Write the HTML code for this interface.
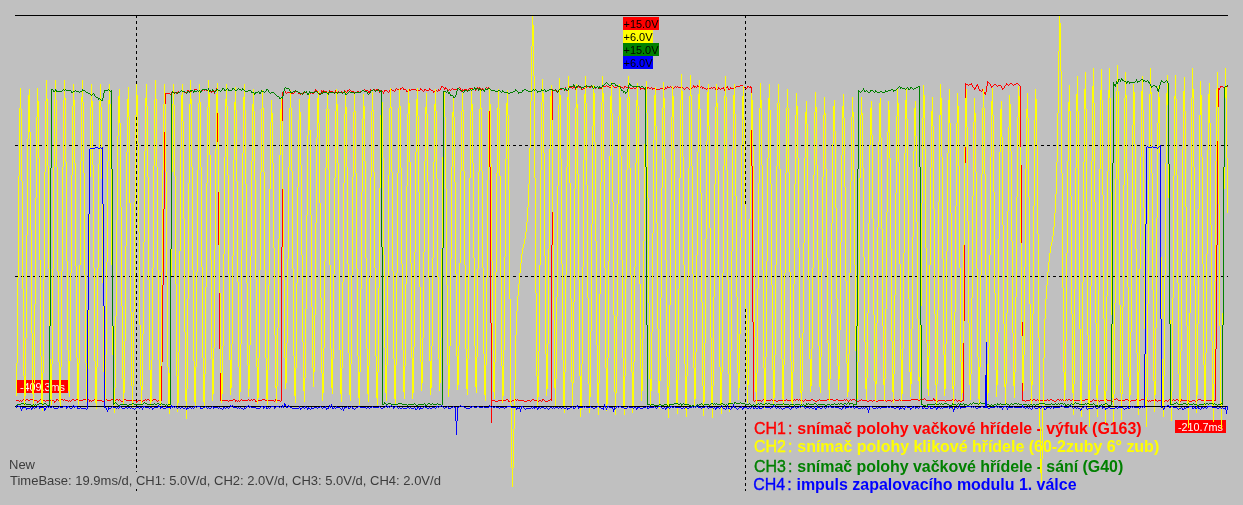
<!DOCTYPE html>
<html lang="cs">
<head>
<meta charset="utf-8">
<title>Oscilloscope</title>
<style>
html,body{margin:0;padding:0;background:#c0c0c0;}
body{width:1243px;height:505px;overflow:hidden;position:relative;font-family:"Liberation Sans",sans-serif;}
svg{position:absolute;left:0;top:0;display:block;will-change:transform;}
</style>
</head>
<body>
<svg width="1243" height="505" viewBox="0 0 1243 505" shape-rendering="crispEdges">
<rect x="17" y="380" width="51" height="13" fill="#f00"/>
<text x="20" y="391" font-family="'Liberation Sans',sans-serif" font-size="11" fill="#fff" textLength="45" lengthAdjust="spacingAndGlyphs">-409.3ms</text>
<rect x="1175" y="420" width="51" height="13" fill="#f00"/>
<text x="1178" y="431" font-family="'Liberation Sans',sans-serif" font-size="11" fill="#fff" textLength="45" lengthAdjust="spacingAndGlyphs">-210.7ms</text>
<rect x="623" y="17" width="36" height="13" fill="#f00"/>
<text x="623.5" y="28.0" font-family="'Liberation Sans',sans-serif" font-size="11" fill="#000" textLength="35" lengthAdjust="spacingAndGlyphs">+15.0V</text>
<rect x="623" y="30" width="30" height="13" fill="#ff0"/>
<text x="623.5" y="41.0" font-family="'Liberation Sans',sans-serif" font-size="11" fill="#000" textLength="29" lengthAdjust="spacingAndGlyphs">+6.0V</text>
<rect x="623" y="43" width="36" height="13" fill="#008000"/>
<text x="623.5" y="54.0" font-family="'Liberation Sans',sans-serif" font-size="11" fill="#000" textLength="35" lengthAdjust="spacingAndGlyphs">+15.0V</text>
<rect x="623" y="56" width="30" height="13" fill="#00f"/>
<text x="623.5" y="67.0" font-family="'Liberation Sans',sans-serif" font-size="11" fill="#000" textLength="29" lengthAdjust="spacingAndGlyphs">+6.0V</text>
<text transform="translate(0 434.0) scale(1 1.045)" font-family="'Liberation Sans',sans-serif" font-size="16" fill="#f00" stroke="#f00"><tspan x="754.0" stroke-width=".35">CH1</tspan><tspan dx="2" stroke-width=".35">:</tspan><tspan x="797.3" font-weight="bold" stroke-width="0" letter-spacing="-0.055">snímač polohy vačkové hřídele - výfuk (G163)</tspan></text>
<text transform="translate(0 452.0) scale(1 1.045)" font-family="'Liberation Sans',sans-serif" font-size="16" fill="#ff0" stroke="#ff0"><tspan x="754.0" stroke-width=".35">CH2</tspan><tspan dx="2" stroke-width=".35">:</tspan><tspan x="797.3" font-weight="bold" stroke-width="0" letter-spacing="-0.020">snímač polohy klikové hřídele (60-2zuby 6° zub)</tspan></text>
<text transform="translate(0 472.0) scale(1 1.045)" font-family="'Liberation Sans',sans-serif" font-size="16" fill="#008000" stroke="#008000"><tspan x="754.0" stroke-width=".35">CH3</tspan><tspan dx="2" stroke-width=".35">:</tspan><tspan x="797.3" font-weight="bold" stroke-width="0" letter-spacing="-0.050">snímač polohy vačkové hřídele - sání (G40)</tspan></text>
<text transform="translate(0 490.0) scale(1 1.045)" font-family="'Liberation Sans',sans-serif" font-size="16" fill="#00f" stroke="#00f"><tspan x="753.2" stroke-width=".35">CH4</tspan><tspan dx="2" stroke-width=".35">:</tspan><tspan x="796.5" font-weight="bold" stroke-width="0" letter-spacing="-0.025">impuls zapalovacího modulu 1. válce</tspan></text>
<path d="M15 15.5H1228" stroke="#000" stroke-width="1" fill="none"/>
<path d="M15 145.5H1228M15 276.5H1228" stroke="#000" stroke-width="1" stroke-dasharray="3 3" fill="none"/>
<path d="M136.5 15V491M745.5 15V491" stroke="#000" stroke-width="1" stroke-dasharray="3 3" fill="none"/>
<rect x="7" y="472" width="437" height="16" fill="#c0c0c0"/>
<text x="9" y="469" font-family="'Liberation Sans',sans-serif" font-size="13" fill="#3c3c3c">New</text>
<text x="10" y="485" font-family="'Liberation Sans',sans-serif" font-size="13" fill="#3c3c3c">TimeBase: 19.9ms/d, CH1: 5.0V/d, CH2: 2.0V/d, CH3: 5.0V/d, CH4: 2.0V/d</text>
<g stroke="#f00" stroke-width="1" fill="none"><path transform="translate(.5 0)" d="M37 401v2M54 401v2M56 399v2M89 400v2M136 401v2M161 362v39M162 285v77M163 209v76M164 132v77M165 93v39M171 92v2M186 92v2M187 90v2M194 89v2M201 90v2M212 90v2M214 92v2M215 90v2M216 88v2M217 89v53M218 142v103M219 245v104M220 349v52M235 400v2M255 400v2M275 399v2M281 247v154M282 92v155M283 91v2M284 89v2M285 91v2M295 90v2M298 92v2M309 91v2M310 92v2M314 91v2M315 89v2M318 92v2M320 93v2M321 90v3M322 91v2M323 90v2M324 91v2M327 92v2M329 90v2M335 90v2M337 92v2M338 91v2M344 90v2M345 91v2M347 90v2M365 90v2M368 91v2M369 91v2M370 89v2M378 89v2M379 91v2M380 90v2M383 92v2M384 90v2M389 90v2M395 89v2M400 88v2M403 88v2M406 90v2M409 89v2M420 88v2M424 89v2M429 88v2M433 91v2M438 89v2M440 88v2M441 86v2M444 88v2M445 87v2M460 88v2M461 90v2M462 89v2M467 90v2M468 89v2M475 89v2M476 88v2M478 88v2M479 87v2M485 88v2M489 88v79M490 167v156M491 323v100M508 400v2M542 399v2M551 245v156M552 89v156M559 89v2M564 89v2M565 87v2M566 89v2M568 88v2M569 86v2M573 86v2M575 88v2M576 87v2M578 85v2M579 86v2M581 88v2M583 87v2M586 86v2M598 87v2M602 86v2M624 86v2M640 88v2M647 87v2M652 88v2M665 87v2M667 86v2M693 85v2M694 86v2M697 85v2M699 87v2M702 87v2M715 88v2M718 87v2M723 87v2M724 89v2M725 88v2M727 86v2M728 88v2M730 87v2M734 86v2M743 86v2M747 86v2M750 86v2M751 87v79M752 166v156M753 322v79M933 398v2M934 399v2M963 321v80M964 163v158M965 83v80M971 83v2M972 85v2M974 88v2M975 87v2M976 85v2M977 84v2M978 86v3M979 89v2M982 89v2M983 90v2M984 92v2M985 92v3M986 86v6M987 81v5M990 84v2M991 86v2M1001 86v2M1002 88v2M1004 86v2M1006 83v2M1020 86v79M1021 165v157M1022 322v79M1113 399v2M1155 399v2M1181 399v2M1196 399v2M1215 349v52M1216 245v104M1217 141v104M1218 88v53M1219 88v2M1220 86v2"/><path transform="translate(0 .5)" d="M988 82h1M989 83h1M1010 83h2M1016 83h2M966 84h2M969 84h2M994 84h2M1007 84h1M1009 84h1M1012 84h1M1014 84h2M1018 84h1M606 85h1M612 85h1M740 85h3M968 85h1M993 85h1M996 85h1M998 85h3M1005 85h1M1008 85h1M1013 85h1M1019 85h1M442 86h1M587 86h2M591 86h1M597 86h1M603 86h3M607 86h2M611 86h1M613 86h1M617 86h4M625 86h1M628 86h1M637 86h2M670 86h1M675 86h1M677 86h1M695 86h1M698 86h1M701 86h1M736 86h4M748 86h1M992 86h1M997 86h1M1221 86h2M1225 86h1M1227 86h1M402 87h1M443 87h1M459 87h1M477 87h1M486 87h1M488 87h1M570 87h2M574 87h1M577 87h1M580 87h1M589 87h2M592 87h1M594 87h1M596 87h1M609 87h2M614 87h3M621 87h2M626 87h2M629 87h1M633 87h1M636 87h1M639 87h1M648 87h1M651 87h1M668 87h2M671 87h1M674 87h1M676 87h1M678 87h5M686 87h2M692 87h1M696 87h1M700 87h1M703 87h1M711 87h1M713 87h2M726 87h1M735 87h1M744 87h1M749 87h1M973 87h1M1223 87h2M1226 87h1M396 88h1M401 88h1M446 88h1M452 88h1M457 88h2M469 88h4M474 88h1M480 88h1M482 88h1M487 88h1M562 88h2M572 88h1M584 88h2M593 88h1M595 88h1M599 88h3M623 88h1M630 88h3M634 88h2M641 88h3M645 88h1M649 88h2M653 88h3M660 88h3M666 88h1M672 88h2M683 88h1M685 88h1M688 88h1M690 88h2M704 88h2M707 88h4M712 88h1M719 88h1M721 88h2M731 88h3M745 88h2M1003 88h1M195 89h2M203 89h1M205 89h1M208 89h1M349 89h1M364 89h1M373 89h2M376 89h2M391 89h1M397 89h2M404 89h2M411 89h5M421 89h1M425 89h1M430 89h1M447 89h1M449 89h1M451 89h1M453 89h4M464 89h3M473 89h1M481 89h1M483 89h1M560 89h2M582 89h1M644 89h1M646 89h1M656 89h4M663 89h2M684 89h1M689 89h1M706 89h1M716 89h2M720 89h1M729 89h1M181 90h1M188 90h1M192 90h1M197 90h1M202 90h1M204 90h1M206 90h2M209 90h1M316 90h1M348 90h1M350 90h1M362 90h2M366 90h2M371 90h2M375 90h1M381 90h1M385 90h2M390 90h1M392 90h2M399 90h1M410 90h1M416 90h1M418 90h2M422 90h1M426 90h3M431 90h2M436 90h1M439 90h1M448 90h1M450 90h1M463 90h1M484 90h1M553 90h3M567 90h1M980 90h1M172 91h2M178 91h1M180 91h1M182 91h2M189 91h3M193 91h1M198 91h2M210 91h1M213 91h1M296 91h2M317 91h1M325 91h2M330 91h3M336 91h1M341 91h1M351 91h3M357 91h2M360 91h2M382 91h1M387 91h1M394 91h1M407 91h2M417 91h1M423 91h1M434 91h2M437 91h1M556 91h3M981 91h1M174 92h2M177 92h1M179 92h1M184 92h2M200 92h1M211 92h1M287 92h3M294 92h1M303 92h4M311 92h1M328 92h1M333 92h2M339 92h2M342 92h2M346 92h1M354 92h3M359 92h1M388 92h1M166 93h4M176 93h1M286 93h1M290 93h4M299 93h1M301 93h2M307 93h2M312 93h2M319 93h1M170 94h1M300 94h1M86 398h1M924 398h1M1116 398h1M23 399h2M26 399h2M30 399h4M40 399h2M51 399h1M57 399h1M59 399h4M64 399h1M72 399h2M76 399h3M83 399h3M87 399h2M94 399h2M106 399h1M111 399h2M114 399h1M116 399h2M119 399h1M124 399h2M132 399h1M145 399h1M147 399h2M150 399h1M153 399h3M159 399h2M233 399h2M241 399h1M248 399h1M251 399h1M253 399h2M262 399h3M506 399h2M515 399h1M517 399h1M532 399h2M543 399h1M550 399h1M763 399h1M765 399h1M771 399h1M773 399h1M786 399h1M794 399h1M796 399h2M799 399h1M805 399h1M811 399h2M819 399h1M827 399h6M836 399h2M844 399h1M846 399h1M850 399h1M852 399h3M861 399h1M893 399h2M899 399h1M911 399h7M920 399h4M925 399h1M952 399h1M955 399h1M1030 399h1M1033 399h2M1037 399h1M1047 399h1M1050 399h2M1057 399h2M1060 399h1M1062 399h1M1066 399h1M1068 399h2M1072 399h1M1080 399h1M1085 399h4M1093 399h1M1105 399h2M1114 399h2M1117 399h1M1125 399h3M1136 399h3M1141 399h3M1169 399h1M1173 399h1M1176 399h2M1198 399h3M1205 399h1M16 400h3M20 400h1M22 400h1M25 400h1M28 400h2M34 400h3M39 400h1M42 400h3M46 400h5M52 400h2M58 400h1M63 400h1M65 400h3M69 400h1M71 400h1M74 400h2M79 400h4M90 400h1M92 400h2M96 400h6M104 400h2M107 400h4M113 400h1M115 400h1M118 400h1M120 400h1M123 400h1M126 400h6M133 400h3M138 400h4M143 400h2M146 400h1M149 400h1M151 400h2M156 400h1M158 400h1M221 400h7M229 400h4M236 400h1M238 400h1M240 400h1M242 400h6M249 400h2M252 400h1M257 400h5M265 400h9M276 400h4M492 400h3M498 400h8M512 400h3M516 400h1M518 400h6M527 400h3M531 400h1M534 400h3M539 400h2M544 400h1M548 400h2M755 400h6M762 400h1M764 400h1M766 400h5M772 400h1M774 400h2M778 400h5M784 400h2M787 400h4M792 400h2M795 400h1M798 400h1M800 400h3M804 400h1M806 400h5M813 400h2M817 400h2M820 400h7M833 400h3M838 400h6M845 400h1M847 400h1M849 400h1M851 400h1M855 400h1M859 400h2M862 400h5M869 400h3M873 400h3M878 400h8M887 400h4M892 400h1M895 400h4M900 400h11M918 400h2M926 400h7M935 400h2M938 400h7M946 400h6M953 400h2M956 400h1M958 400h2M962 400h1M1023 400h2M1026 400h4M1031 400h2M1035 400h2M1038 400h5M1044 400h3M1048 400h2M1052 400h2M1056 400h1M1059 400h1M1061 400h1M1063 400h3M1067 400h1M1070 400h2M1073 400h7M1081 400h4M1089 400h1M1092 400h1M1094 400h5M1100 400h5M1107 400h5M1118 400h7M1128 400h2M1131 400h5M1139 400h2M1144 400h4M1149 400h1M1151 400h3M1156 400h1M1158 400h4M1165 400h2M1168 400h1M1170 400h3M1174 400h2M1178 400h1M1182 400h7M1192 400h3M1197 400h1M1201 400h4M1206 400h9M19 401h1M21 401h1M38 401h1M45 401h1M55 401h1M68 401h1M70 401h1M91 401h1M102 401h2M121 401h2M137 401h1M142 401h1M157 401h1M228 401h1M237 401h1M239 401h1M256 401h1M274 401h1M280 401h1M495 401h3M509 401h3M524 401h3M530 401h1M537 401h2M541 401h1M545 401h3M754 401h1M761 401h1M776 401h2M783 401h1M791 401h1M803 401h1M815 401h2M848 401h1M856 401h3M867 401h2M872 401h1M876 401h2M886 401h1M891 401h1M937 401h1M945 401h1M957 401h1M960 401h2M1025 401h1M1043 401h1M1054 401h2M1090 401h2M1099 401h1M1112 401h1M1130 401h1M1148 401h1M1150 401h1M1154 401h1M1157 401h1M1162 401h3M1167 401h1M1179 401h2M1189 401h3M1195 401h1"/></g>
<g stroke="#ff0" stroke-width="1" fill="none"><path transform="translate(.5 0)" d="M16 363v33M17 278v85M18 176v102M19 108v68M20 88v21M21 109v72M22 181v108M23 289v87M24 376v32M25 338v58M26 235v103M27 139v96M28 95v44M29 89v43M30 132v98M31 230v103M32 333v61M33 383v26M34 304v79M35 198v106M36 117v81M37 88v29M38 101v57M39 158v102M40 260v96M41 356v47M42 373v38M43 279v94M44 172v107M45 101v71M46 80v21M47 99v67M48 166v103M49 269v90M50 359v40M51 364v41M52 269v95M53 167v102M54 100v67M55 80v20M56 100v67M57 167v104M58 271v91M59 362v40M60 367v41M61 271v96M62 167v104M63 100v67M64 80v20M65 98v64M66 162v99M67 261v89M68 350v41M69 361v36M70 273v88M71 175v98M72 106v69M73 84v22M74 100v63M75 163v103M76 266v92M77 358v41M78 363v42M79 265v98M80 161v104M81 97v64M82 80v22M83 102v71M84 173v102M85 275v88M86 363v39M87 369v39M88 277v92M89 177v100M90 107v70M91 84v23M92 101v64M93 165v103M94 268v93M95 361v42M96 367v42M97 268v99M98 164v104M99 101v63M100 84v23M101 107v72M102 179v104M103 283v89M104 372v36M105 355v46M106 262v93M107 161v101M108 100v61M109 84v20M110 104v64M111 168v97M112 265v90M113 355v48M114 388v25M115 316v72M116 220v96M117 136v84M118 96v40M119 89v34M120 123v84M121 207v99M122 306v73M123 379v26M124 341v52M125 246v95M126 152v94M127 99v53M128 87v30M129 117v86M130 203v109M131 312v74M132 386v22M133 312v74M134 202v110M135 115v87M136 84v31M137 95v48M138 143v89M139 232v93M140 325v61M141 386v19M142 334v56M143 242v92M144 151v91M145 98v53M146 84v22M147 106v71M148 177v103M149 280v90M150 370v38M151 360v42M152 268v92M153 166v102M154 100v66M155 80v20M156 99v68M157 167v103M158 270v90M159 360v41M160 366v41M161 272v94M162 170v102M163 104v66M164 84v20M165 104v68M166 172v104M167 276v91M168 367v41M169 373v41M170 276v97M171 172v104M172 104v68M173 84v21M174 105v71M175 176v108M176 284v92M177 376v36M178 352v51M179 251v101M180 149v102M181 95v54M182 84v37M183 121v98M184 219v113M185 332v69M186 389v30M187 299v90M188 183v116M189 104v79M190 80v24M191 99v68M192 167v103M193 270v91M194 361v41M195 367v41M196 272v95M197 170v102M198 103v67M199 84v19M200 102v65M201 167v100M202 267v91M203 358v44M204 374v35M205 287v87M206 183v104M207 107v76M208 80v27M209 94v61M210 155v105M211 260v99M212 359v42M213 348v46M214 250v98M215 149v101M216 94v55M217 83v30M218 113v79M219 192v101M220 293v80M221 373v30M222 346v48M223 254v92M224 157v97M225 99v58M226 84v22M227 106v69M228 175v99M229 274v86M230 360v35M231 344v44M232 256v88M233 160v96M234 102v58M235 87v23M236 110v71M237 181v101M238 282v85M239 367v33M240 344v48M241 250v94M242 153v97M243 97v56M244 84v26M245 110v74M246 184v99M247 283v82M248 365v32M249 345v44M250 256v89M251 161v95M252 104v57M253 89v22M254 111v69M255 180v99M256 279v88M257 367v37M258 358v40M259 270v88M260 172v98M261 109v63M262 90v19M263 108v64M264 172v98M265 270v88M266 358v41M267 370v35M268 285v85M269 189v96M270 122v67M271 100v22M272 113v50M273 163v85M274 248v87M275 335v53M276 386v17M277 328v58M278 239v89M279 155v84M280 109v46M281 98v23M282 121v68M283 189v91M284 280v78M285 358v31M286 343v40M287 259v84M288 167v92M289 108v59M290 90v18M291 108v63M292 171v98M293 269v87M294 356v40M295 368v35M296 283v85M297 187v96M298 120v67M299 99v21M300 112v53M301 165v90M302 255v87M303 342v49M304 378v24M305 309v69M306 215v94M307 135v80M308 99v36M309 94v36M310 130v85M311 215v92M312 307v61M313 368v19M314 315v57M315 223v92M316 138v85M317 98v40M318 91v32M319 123v80M320 203v95M321 298v75M322 373v28M323 348v45M324 261v87M325 168v93M326 109v59M327 92v17M328 109v61M329 170v95M330 265v84M331 349v39M332 359v35M333 274v85M334 178v96M335 111v67M336 89v22M337 104v59M338 163v97M339 260v90M340 350v44M341 368v34M342 282v86M343 183v99M344 114v69M345 92v22M346 107v60M347 167v97M348 264v89M349 353v42M350 364v37M351 275v89M352 177v98M353 112v65M354 93v19M355 111v62M356 173v96M357 269v87M358 356v42M359 372v33M360 289v83M361 192v97M362 119v73M363 94v25M364 106v55M365 161v97M366 258v91M367 349v45M368 366v36M369 278v88M370 177v101M371 111v66M372 92v19M373 110v62M374 172v96M375 268v88M376 356v42M377 372v33M378 288v84M379 188v100M380 115v73M381 90v25M382 102v56M383 158v97M384 255v93M385 348v45M386 365v36M387 276v89M388 175v101M389 108v67M390 88v20M391 107v65M392 172v99M393 271v88M394 359v40M395 365v39M396 273v92M397 173v100M398 108v65M399 89v19M400 106v62M401 168v96M402 264v86M403 350v42M404 366v33M405 284v82M406 186v98M407 114v72M408 89v25M409 103v59M410 162v101M411 263v95M412 358v41M413 347v46M414 252v95M415 152v100M416 99v53M417 88v28M418 116v76M419 192v95M420 287v75M421 362v29M422 338v45M423 252v86M424 161v91M425 107v54M426 93v21M427 114v68M428 182v96M429 278v83M430 361v34M431 346v42M432 258v88M433 162v96M434 104v58M435 89v22M436 111v68M437 179v98M438 277v82M439 359v32M440 338v45M441 249v89M442 157v92M443 104v53M444 92v25M445 117v72M446 189v96M447 285v80M448 365v32M449 346v43M450 259v87M451 167v92M452 112v55M453 97v20M454 117v65M455 182v92M456 274v82M457 356v34M458 346v39M459 263v83M460 171v92M461 111v60M462 93v18M463 110v61M464 171v94M465 265v84M466 349v40M467 359v36M468 274v85M469 178v96M470 111v67M471 89v22M472 104v59M473 163v95M474 258v88M475 346v41M476 357v36M477 269v88M478 172v97M479 109v63M480 90v19M481 108v63M482 171v97M483 268v86M484 354v41M485 365v36M486 278v87M487 180v98M488 111v69M489 89v22M490 104v60M491 164v97M492 261v89M493 350v42M494 362v37M495 272v90M496 173v99M497 108v65M498 89v20M499 109v67M500 176v101M501 277v89M502 366v37M503 350v46M504 257v93M505 159v98M506 103v56M507 90v25M508 115v75M509 190v109M510 299v105M511 404v64M512 468v19M513 429v39M514 380v49M515 335v45M516 311v24M517 296v15M518 284v12M519 273v11M520 263v10M521 254v9M522 248v6M523 244v4M524 239v5M525 232v7M526 222v10M527 207v15M528 184v23M529 148v36M530 101v47M531 46v55M532 16v30M533 25v51M534 76v102M535 178v115M536 293v83M537 376v30M538 351v46M539 265v86M540 170v95M541 102v68M542 79v23M543 93v60M544 153v103M545 256v98M546 354v42M547 344v45M548 249v95M549 149v100M550 96v53M551 85v35M552 120v92M553 212v108M554 320v68M555 379v27M556 297v82M557 186v111M558 105v81M559 78v27M560 95v64M561 159v105M562 264v96M563 360v46M564 372v41M565 275v97M566 167v108M567 97v70M568 76v24M569 100v83M570 183v116M571 299v83M572 382v25M573 302v81M574 189v113M575 108v81M576 84v24M577 104v70M578 174v106M579 280v96M580 376v41M581 364v46M582 267v97M583 160v107M584 94v66M585 76v27M586 103v82M587 185v113M588 298v86M589 384v29M590 331v66M591 224v107M592 126v98M593 85v41M594 93v49M595 142v99M596 241v104M597 345v58M598 383v32M599 294v89M600 182v112M601 102v80M602 76v26M603 93v67M604 160v108M605 268v100M606 368v43M607 358v46M608 261v97M609 156v105M610 96v60M611 82v31M612 113v89M613 202v113M614 315v77M615 392v23M616 316v77M617 204v112M618 116v88M619 84v32M620 97v59M621 156v104M622 260v98M623 358v49M624 376v39M625 279v97M626 170v109M627 98v72M628 76v22M629 97v71M630 168v107M631 275v97M632 372v41M633 362v45M634 267v95M635 163v104M636 100v63M637 83v23M638 106v74M639 180v104M640 284v85M641 369v32M642 339v52M643 241v98M644 144v97M645 92v52M646 81v32M647 113v85M648 198v105M649 303v76M650 379v26M651 332v59M652 233v99M653 140v93M654 95v45M655 87v39M656 126v97M657 223v106M658 329v64M659 381v28M660 298v83M661 188v110M662 108v80M663 82v26M664 98v61M665 159v101M666 260v97M667 357v51M668 387v31M669 305v82M670 200v105M671 117v83M672 86v31M673 96v53M674 149v101M675 250v100M676 350v53M677 380v34M678 289v91M679 178v111M680 100v78M681 74v26M682 91v66M683 157v108M684 265v99M685 364v46M686 376v41M687 277v99M688 168v109M689 96v72M690 75v21M691 95v71M692 166v108M693 274v94M694 368v39M695 352v47M696 255v97M697 152v103M698 94v58M699 80v29M700 109v84M701 193v109M702 302v84M703 386v30M704 343v59M705 239v104M706 141v98M707 92v49M708 84v42M709 126v102M710 228v110M711 338v65M712 386v32M713 297v89M714 184v113M715 107v77M716 84v23M717 103v68M718 171v105M719 276v91M720 367v41M721 372v42M722 273v99M723 166v107M724 96v70M725 76v21M726 97v73M727 170v110M728 280v94M729 374v38M730 351v52M731 251v100M732 149v102M733 95v54M734 84v30M735 114v82M736 196v101M737 297v76M738 373v27M739 334v54M740 238v96M741 145v93M742 96v49M743 86v33M744 119v86M745 205v103M746 308v72M747 380v23M748 320v65M749 219v101M750 130v89M751 93v37M752 100v46M753 146v94M754 240v97M755 337v55M756 373v31M757 289v84M758 183v106M759 108v75M760 83v25M761 100v65M762 165v105M763 270v98M764 368v41M765 357v45M766 261v96M767 158v103M768 98v60M769 84v26M770 110v74M771 184v101M772 285v85M773 370v35M774 355v43M775 265v90M776 166v99M777 103v63M778 84v19M779 103v66M780 169v101M781 270v89M782 359v40M783 365v40M784 273v92M785 173v100M786 108v65M787 89v19M788 108v64M789 172v100M790 272v89M791 361v41M792 372v36M793 284v88M794 184v100M795 115v69M796 93v22M797 106v52M798 158v90M799 248v90M800 338v55M801 391v17M802 333v58M803 243v90M804 158v85M805 112v46M806 101v23M807 124v66M808 190v90M809 280v79M810 359v33M811 349v37M812 268v81M813 175v93M814 112v63M815 92v20M816 107v58M817 165v95M818 260v86M819 346v41M820 357v36M821 272v85M822 177v95M823 115v62M824 97v18M825 113v56M826 169v89M827 258v85M828 343v47M829 379v22M830 314v65M831 223v91M832 144v79M833 106v38M834 100v31M835 131v77M836 208v91M837 299v67M838 366v24M839 330v49M840 242v88M841 155v87M842 106v49M843 94v24M844 118v69M845 187v94M846 281v82M847 363v34M848 354v38M849 273v81M850 181v92M851 117v64M852 97v20M853 112v58M854 170v95M855 265v86M856 351v41M857 362v37M858 275v87M859 178v97M860 115v63M861 97v18M862 113v55M863 168v89M864 257v85M865 342v47M866 378v22M867 313v65M868 223v90M869 145v78M870 108v37M871 101v34M872 135v84M873 219v96M874 315v66M875 381v20M876 323v61M877 227v96M878 142v85M879 103v39M880 98v40M881 138v91M882 229v97M883 326v59M884 379v22M885 309v70M886 212v97M887 132v80M888 101v31M889 110v48M890 158v91M891 249v92M892 341v51M893 374v29M894 295v79M895 193v102M896 116v77M897 89v27M898 103v59M899 162v102M900 264v96M901 360v41M902 349v45M903 253v96M904 153v100M905 100v53M906 89v30M907 119v81M908 200v99M909 299v73M910 372v25M911 329v55M912 237v92M913 151v86M914 108v43M915 101v35M916 136v86M917 222v97M918 319v62M919 377v22M920 306v71M921 203v103M922 118v85M923 85v33M924 95v54M925 149v99M926 248v95M927 343v46M928 357v39M929 265v92M930 168v97M931 111v57M932 97v29M933 126v83M934 209v105M935 314v71M936 384v22M937 310v74M938 202v108M939 115v87M940 84v31M941 98v59M942 157v102M943 259v96M944 355v41M945 344v45M946 251v93M947 153v98M948 100v53M949 89v34M950 123v90M951 213v107M952 320v69M953 386v23M954 312v74M955 206v106M956 123v83M957 93v30M958 106v60M959 166v102M960 268v94M961 362v39M962 343v50M963 245v98M964 147v98M965 98v49M966 89v38M967 127v94M968 221v102M969 323v62M970 374v26M971 298v76M972 196v102M973 122v74M974 98v24M975 113v59M976 172v97M977 269v88M978 357v42M979 367v38M980 275v92M981 174v101M982 108v66M983 89v19M984 108v66M985 174v101M986 275v89M987 364v37M988 347v46M989 255v92M990 157v98M991 101v56M992 88v27M993 115v77M994 192v101M995 293v77M996 370v27M997 332v53M998 239v93M999 152v87M1000 109v43M1001 101v36M1002 137v88M1003 225v99M1004 324v63M1005 384v21M1006 313v71M1007 211v102M1008 127v84M1009 95v32M1010 104v47M1011 151v90M1012 241v92M1013 333v53M1014 372v26M1015 297v75M1016 197v100M1017 117v80M1018 86v31M1019 96v51M1020 147v96M1021 243v93M1022 336v47M1023 355v36M1024 267v88M1025 169v98M1026 109v60M1027 93v25M1028 118v79M1029 197v107M1030 304v77M1031 381v24M1032 314v71M1033 206v108M1034 120v86M1035 89v31M1036 99v46M1037 145v89M1038 234v104M1039 338v89M1040 427v46M1041 459v24M1042 409v50M1043 358v51M1044 319v39M1045 299v20M1046 285v14M1047 272v13M1048 262v10M1049 253v9M1050 246v7M1051 242v4M1052 236v6M1053 227v9M1054 213v14M1055 194v19M1056 162v32M1057 113v49M1058 51v62M1059 16v35M1060 23v48M1061 71v102M1062 173v115M1063 288v84M1064 372v29M1065 341v49M1066 253v88M1067 161v92M1068 102v59M1069 85v26M1070 111v85M1071 196v118M1072 314v79M1073 384v31M1074 289v95M1075 168v121M1076 94v74M1077 76v35M1078 111v99M1079 210v119M1080 329v71M1081 381v36M1082 282v99M1083 162v120M1084 89v73M1085 72v37M1086 109v102M1087 211v124M1088 335v74M1089 390v37M1090 286v104M1091 161v125M1092 86v75M1093 68v35M1094 103v99M1095 202v121M1096 323v75M1097 385v32M1098 290v95M1099 169v121M1100 90v79M1101 69v31M1102 100v95M1103 195v124M1104 319v82M1105 391v32M1106 296v95M1107 171v125M1108 90v81M1109 68v30M1110 98v94M1111 192v123M1112 315v83M1113 394v28M1114 303v91M1115 179v124M1116 91v88M1117 65v26M1118 91v89M1119 180v125M1120 305v88M1121 393v27M1122 307v87M1123 185v122M1124 98v87M1125 72v26M1126 95v78M1127 173v114M1128 287v90M1129 377v33M1130 332v63M1131 224v108M1132 125v99M1133 84v41M1134 92v52M1135 144v105M1136 249v104M1137 353v53M1138 372v43M1139 269v103M1140 157v112M1141 91v66M1142 76v34M1143 110v98M1144 208v121M1145 329v77M1146 397v30M1147 304v93M1148 180v124M1149 94v86M1150 68v26M1151 92v81M1152 173v117M1153 290v91M1154 381v31M1155 328v67M1156 218v110M1157 123v95M1158 86v37M1159 97v56M1160 153v104M1161 257v102M1162 359v50M1163 376v41M1164 275v101M1165 163v112M1166 93v70M1167 75v30M1168 105v93M1169 198v122M1170 320v80M1171 391v30M1172 298v93M1173 176v122M1174 96v80M1175 75v24M1176 99v76M1177 175v108M1178 283v91M1179 374v36M1180 351v50M1181 252v99M1182 149v103M1183 91v58M1184 77v34M1185 111v96M1186 207v119M1187 326v79M1188 401v27M1189 313v88M1190 190v123M1191 98v92M1192 68v30M1193 89v78M1194 167v119M1195 286v94M1196 380v33M1197 324v71M1198 209v115M1199 115v94M1200 81v34M1201 95v62M1202 157v107M1203 264v101M1204 365v43M1205 353v48M1206 254v99M1207 150v104M1208 94v56M1209 83v40M1210 123v102M1211 225v116M1212 341v66M1213 384v38M1214 281v103M1215 161v120M1216 89v72M1217 72v35M1218 107v97M1219 204v122M1220 326v80M1221 402v27M1222 313v89M1223 189v124M1224 98v91M1225 68v30M1226 86v72M1227 158v55"/></g>
<path d="M15 406.5H1228" stroke="#000" stroke-width="1" fill="none"/>
<g stroke="#008000" stroke-width="1" fill="none"><path transform="translate(.5 0)" d="M49 326v81M50 168v158M51 89v79M53 90v2M55 89v2M56 90v2M71 91v2M82 89v2M94 94v2M98 98v2M102 98v3M103 93v5M104 90v3M111 90v79M112 169v157M113 326v79M170 249v156M171 93v156M172 91v2M187 91v2M190 90v2M193 91v2M194 90v2M200 91v2M201 90v2M208 88v2M209 90v2M212 89v2M214 91v2M216 89v2M222 88v2M224 89v2M228 89v2M232 88v2M242 88v2M251 91v2M254 93v2M255 92v2M259 92v2M260 92v2M261 90v2M266 89v2M268 90v2M279 97v2M282 96v3M283 91v5M284 88v3M289 89v2M290 91v2M303 92v2M306 91v2M307 93v2M308 93v2M309 91v2M321 92v2M323 91v2M328 93v2M329 91v2M344 91v2M345 93v2M367 92v2M370 91v2M379 90v2M381 90v157M382 247v158M384 402v2M425 404v2M442 248v157M443 91v157M447 90v2M448 92v2M449 92v2M450 94v2M453 96v2M455 95v2M456 91v4M457 88v3M464 90v2M474 87v2M475 88v2M478 89v2M479 88v2M484 90v2M485 88v2M502 90v2M515 89v2M518 92v2M522 90v2M537 91v2M541 89v2M545 90v2M556 90v2M558 90v2M564 89v2M565 88v2M568 88v2M573 84v2M574 85v2M575 87v2M576 86v2M581 87v2M592 86v2M594 86v2M598 87v2M599 86v2M602 85v2M611 83v2M615 84v2M620 87v2M621 89v2M623 91v2M625 92v2M627 89v3M628 85v4M629 83v2M630 84v2M645 87v80M646 167v158M647 325v80M669 404v2M681 404v2M728 403v2M734 402v2M804 405v2M806 403v2M849 403v2M853 404v2M856 326v79M857 169v157M858 90v79M863 88v2M864 90v2M870 90v2M875 90v2M885 90v2M893 90v2M900 87v2M908 88v2M910 87v2M919 86v81M920 167v158M921 325v80M927 404v2M952 403v2M959 404v2M960 403v2M964 404v2M992 405v2M997 403v2M1065 404v2M1111 324v81M1112 163v161M1113 82v81M1114 84v2M1115 84v3M1116 81v3M1117 82v2M1118 79v3M1120 80v2M1121 78v2M1122 79v2M1126 82v2M1127 81v2M1129 82v2M1136 79v2M1137 81v2M1143 80v2M1148 81v2M1149 82v2M1150 84v2M1151 86v2M1156 86v2M1157 88v3M1158 89v3M1159 85v4M1160 82v3M1161 80v2M1167 81v2M1168 83v81M1169 164v160M1170 324v81M1222 325v80M1223 167v158M1224 87v80"/><path transform="translate(0 .5)" d="M1119 79h1M1141 79h2M1123 80h1M1140 80h1M1144 80h1M1147 80h1M1166 80h1M1124 81h2M1128 81h1M1135 81h1M1138 81h2M1145 81h2M1162 81h1M1165 81h1M606 82h1M1130 82h5M1163 82h2M605 83h1M607 83h1M612 83h3M604 84h1M608 84h1M578 85h1M586 85h1M591 85h1M603 85h1M609 85h2M616 85h2M631 85h1M1153 85h2M1227 85h1M570 86h3M577 86h1M579 86h2M584 86h2M587 86h4M597 86h1M618 86h2M632 86h8M641 86h2M899 86h1M918 86h1M1152 86h1M1155 86h1M1225 86h2M285 87h1M569 87h1M582 87h2M595 87h2M600 87h2M640 87h1M643 87h1M898 87h1M901 87h1M907 87h1M911 87h1M916 87h2M223 88h1M227 88h1M233 88h1M238 88h1M286 88h3M458 88h1M476 88h2M488 88h2M560 88h4M593 88h1M644 88h1M897 88h1M902 88h3M906 88h1M912 88h1M914 88h2M52 89h1M63 89h1M65 89h1M108 89h1M202 89h5M217 89h1M226 89h1M234 89h1M237 89h1M239 89h2M243 89h1M267 89h1M373 89h1M378 89h1M459 89h1M470 89h1M472 89h2M480 89h1M482 89h1M486 89h2M490 89h1M524 89h2M533 89h1M535 89h1M544 89h1M549 89h3M555 89h1M559 89h1M566 89h1M891 89h2M896 89h1M905 89h1M909 89h1M913 89h1M62 90h1M64 90h1M66 90h5M75 90h1M83 90h2M105 90h3M109 90h1M181 90h1M191 90h2M197 90h1M199 90h1M207 90h1M210 90h1M213 90h1M218 90h2M221 90h1M225 90h1M229 90h3M235 90h2M241 90h1M244 90h1M248 90h3M295 90h1M362 90h2M371 90h2M374 90h1M376 90h2M460 90h2M465 90h2M468 90h2M471 90h1M481 90h1M483 90h1M491 90h4M498 90h2M516 90h1M523 90h1M526 90h2M532 90h1M534 90h1M536 90h1M542 90h2M547 90h2M552 90h3M567 90h1M622 90h1M862 90h1M866 90h1M871 90h2M888 90h3M894 90h2M54 91h1M57 91h5M73 91h2M76 91h3M80 91h2M85 91h1M110 91h1M180 91h1M182 91h3M188 91h1M195 91h2M198 91h1M211 91h1M215 91h1M220 91h1M245 91h3M258 91h1M262 91h2M265 91h1M293 91h2M296 91h2M304 91h1M315 91h2M349 91h1M361 91h1M364 91h3M375 91h1M380 91h1M444 91h2M462 91h1M467 91h1M495 91h3M500 91h1M503 91h1M513 91h2M517 91h1M528 91h4M538 91h3M546 91h1M624 91h1M859 91h1M861 91h1M865 91h1M867 91h1M873 91h1M876 91h1M880 91h2M886 91h2M72 92h1M79 92h1M86 92h2M173 92h1M175 92h2M178 92h2M185 92h1M189 92h1M252 92h2M256 92h2M264 92h1M269 92h1M271 92h3M291 92h2M298 92h2M305 92h1M310 92h5M317 92h1M324 92h3M330 92h4M335 92h2M338 92h4M343 92h1M348 92h1M350 92h4M355 92h6M446 92h1M463 92h1M501 92h1M504 92h4M510 92h3M519 92h3M557 92h1M626 92h1M860 92h1M868 92h2M874 92h1M877 92h3M882 92h3M88 93h2M93 93h1M174 93h1M177 93h1M186 93h1M270 93h1M274 93h1M300 93h2M318 93h1M322 93h1M327 93h1M334 93h1M337 93h1M342 93h1M347 93h1M354 93h1M369 93h1M508 93h2M90 94h1M92 94h1M275 94h1M302 94h1M319 94h2M346 94h1M368 94h1M91 95h1M276 95h1M451 95h2M95 96h1M277 96h2M96 97h2M281 97h1M454 97h1M99 98h1M280 98h1M100 99h1M101 100h1M115 402h1M144 402h1M735 402h1M740 402h1M848 402h1M973 402h1M980 402h1M1075 402h1M1176 402h1M21 403h3M25 403h1M39 403h3M44 403h2M114 403h1M116 403h1M132 403h2M143 403h1M145 403h2M154 403h1M157 403h2M161 403h1M385 403h1M388 403h3M398 403h4M414 403h1M424 403h1M428 403h2M432 403h1M437 403h1M674 403h4M680 403h1M683 403h1M701 403h1M711 403h2M714 403h1M716 403h1M721 403h2M729 403h4M736 403h4M741 403h4M749 403h1M758 403h1M760 403h2M765 403h2M768 403h2M783 403h1M808 403h1M814 403h2M834 403h1M838 403h1M840 403h2M844 403h2M847 403h1M850 403h3M935 403h1M939 403h1M941 403h1M944 403h3M958 403h1M963 403h1M970 403h1M972 403h1M974 403h4M979 403h1M981 403h4M1000 403h1M1006 403h1M1011 403h1M1014 403h3M1018 403h1M1039 403h6M1051 403h1M1055 403h1M1058 403h1M1060 403h3M1064 403h1M1071 403h1M1074 403h1M1076 403h3M1085 403h1M1087 403h2M1093 403h1M1105 403h2M1174 403h2M1177 403h1M1183 403h3M1188 403h1M1193 403h1M1204 403h1M1206 403h2M1209 403h4M1214 403h1M1221 403h1M17 404h4M24 404h1M26 404h5M33 404h1M35 404h1M37 404h2M42 404h2M46 404h1M117 404h1M120 404h7M129 404h3M134 404h9M147 404h7M155 404h2M159 404h2M162 404h3M166 404h1M168 404h2M383 404h1M386 404h2M391 404h7M402 404h5M408 404h6M415 404h1M418 404h6M427 404h1M430 404h2M433 404h4M438 404h3M648 404h2M651 404h3M659 404h2M664 404h3M670 404h4M678 404h2M682 404h1M684 404h5M697 404h1M699 404h2M702 404h1M704 404h5M710 404h1M713 404h1M715 404h1M717 404h4M723 404h2M726 404h1M733 404h1M745 404h4M750 404h1M753 404h1M756 404h2M759 404h1M762 404h3M767 404h1M770 404h5M776 404h7M784 404h5M790 404h4M795 404h5M801 404h1M803 404h1M807 404h1M809 404h5M816 404h1M818 404h7M827 404h3M831 404h3M835 404h3M839 404h1M842 404h2M846 404h1M854 404h2M922 404h1M928 404h7M936 404h3M940 404h1M942 404h2M947 404h2M953 404h3M957 404h1M961 404h2M965 404h2M969 404h1M971 404h1M978 404h1M985 404h4M991 404h1M994 404h2M998 404h2M1001 404h5M1007 404h2M1010 404h1M1012 404h2M1017 404h1M1019 404h3M1023 404h4M1028 404h1M1030 404h2M1033 404h2M1036 404h3M1045 404h6M1052 404h3M1056 404h2M1059 404h1M1063 404h1M1067 404h2M1070 404h1M1072 404h2M1079 404h6M1086 404h1M1089 404h4M1094 404h1M1101 404h1M1103 404h2M1107 404h1M1171 404h3M1178 404h5M1186 404h2M1189 404h4M1194 404h3M1199 404h5M1205 404h1M1208 404h1M1213 404h1M1215 404h2M1218 404h3M16 405h1M31 405h2M34 405h1M36 405h1M47 405h2M118 405h2M127 405h2M165 405h1M167 405h1M407 405h1M416 405h2M426 405h1M441 405h1M650 405h1M654 405h5M661 405h3M667 405h1M689 405h2M692 405h2M696 405h1M698 405h1M703 405h1M709 405h1M725 405h1M727 405h1M751 405h2M754 405h2M775 405h1M789 405h1M794 405h1M800 405h1M802 405h1M805 405h1M817 405h1M825 405h2M830 405h1M923 405h3M949 405h3M956 405h1M967 405h2M989 405h2M993 405h1M996 405h1M1009 405h1M1022 405h1M1027 405h1M1029 405h1M1032 405h1M1035 405h1M1066 405h1M1069 405h1M1095 405h3M1099 405h2M1102 405h1M1108 405h3M1197 405h2M1217 405h1M668 406h1M691 406h1M694 406h2M926 406h1M1098 406h1"/></g>
<g stroke="#00f" stroke-width="1" fill="none"><path transform="translate(.5 0)" d="M16 406v2M20 407v2M21 409v2M22 407v2M26 408v2M31 408v2M32 407v2M39 407v2M43 406v2M44 408v3M45 408v2M46 406v2M66 407v2M67 406v2M72 406v2M74 406v2M77 407v2M87 310v99M88 214v96M89 149v65M102 147v57M103 204v102M104 306v102M106 408v2M107 410v2M108 407v3M119 406v2M142 408v2M143 406v2M152 408v2M158 405v2M160 407v2M161 406v2M166 406v2M170 407v2M171 405v2M172 406v2M186 408v2M187 407v2M194 406v2M200 407v2M213 407v2M223 407v2M230 405v2M233 406v2M244 407v2M246 406v2M249 406v2M263 407v2M264 406v2M266 407v2M274 407v2M282 405v2M283 406v2M284 403v3M285 404v2M286 406v2M288 405v2M299 406v2M300 408v2M305 406v2M307 408v2M308 407v2M311 407v2M325 406v2M326 408v2M328 407v2M329 405v2M330 406v2M331 404v2M332 406v3M336 406v2M342 407v2M343 409v2M344 407v2M348 407v2M352 407v2M387 406v2M393 407v2M415 408v2M417 407v2M419 408v2M420 407v2M436 406v2M448 407v2M455 407v14M456 421v14M457 407v14M470 406v2M489 405v2M516 408v2M517 407v2M519 407v2M520 409v3M521 406v3M533 406v2M534 407v2M537 408v2M538 407v2M567 408v2M573 407v2M577 405v2M578 407v2M603 407v3M604 404v3M605 406v2M606 408v2M607 406v2M612 407v2M613 409v3M614 407v3M616 406v2M636 408v2M637 407v2M647 407v2M649 406v2M665 408v2M666 407v2M670 406v2M698 406v2M715 408v2M716 407v2M720 406v2M722 406v2M726 407v2M727 405v2M728 407v2M731 407v2M732 406v2M733 404v2M734 406v2M741 406v2M742 408v2M743 407v2M753 407v2M758 406v2M759 407v2M773 405v2M791 407v2M814 406v2M815 408v2M816 408v2M817 406v2M842 407v2M844 405v2M845 407v2M855 406v2M867 408v2M868 410v3M869 407v3M899 408v2M900 407v2M904 408v2M905 406v2M910 408v2M912 406v2M915 407v2M922 407v2M928 406v2M930 407v2M933 406v2M936 408v2M937 407v2M949 407v2M952 407v2M953 409v3M954 407v3M959 405v2M960 407v2M985 375v33M986 342v66M1002 408v2M1003 406v2M1007 408v2M1008 406v2M1022 405v2M1023 406v2M1032 407v2M1043 406v2M1044 408v2M1046 407v2M1053 407v2M1080 409v2M1081 408v2M1086 407v2M1102 407v2M1105 408v2M1118 406v2M1127 406v2M1128 407v2M1144 354v54M1145 224v130M1146 147v77M1160 145v174M1161 319v89M1163 408v2M1164 407v2M1169 406v2M1182 408v2M1184 407v2M1192 407v2M1194 406v2M1195 407v2M1197 406v2M1198 407v2M1201 407v2M1207 406v2M1225 407v3M1226 410v4M1227 406v4"/><path transform="translate(0 .5)" d="M1147 146h1M1152 146h1M1159 146h1M95 147h3M100 147h1M1148 147h4M1153 147h4M1158 147h1M90 148h5M98 148h2M101 148h1M1157 148h1M17 405h1M73 405h1M232 405h1M248 405h1M386 405h1M391 405h1M441 405h1M460 405h1M697 405h1M721 405h1M1061 405h1M1070 405h1M1167 405h2M18 406h2M37 406h2M47 406h1M49 406h1M52 406h1M59 406h1M63 406h3M68 406h1M75 406h2M112 406h1M120 406h1M144 406h1M159 406h1M173 406h1M175 406h1M195 406h1M197 406h3M205 406h1M212 406h1M231 406h1M247 406h1M250 406h1M261 406h2M265 406h1M271 406h3M276 406h3M280 406h1M289 406h1M320 406h1M347 406h1M351 406h1M358 406h2M372 406h1M379 406h1M385 406h1M388 406h1M390 406h1M392 406h1M395 406h2M424 406h1M437 406h1M439 406h2M442 406h1M447 406h1M453 406h1M459 406h1M461 406h3M472 406h2M477 406h2M483 406h1M490 406h1M492 406h1M495 406h1M507 406h4M522 406h1M572 406h1M576 406h1M583 406h1M585 406h1M590 406h1M597 406h2M608 406h1M617 406h1M619 406h2M628 406h1M646 406h1M654 406h1M658 406h3M671 406h1M674 406h1M692 406h1M694 406h1M696 406h1M705 406h2M752 406h1M764 406h1M774 406h1M794 406h1M799 406h1M801 406h3M823 406h1M827 406h1M829 406h2M834 406h1M849 406h1M852 406h1M870 406h2M887 406h1M890 406h1M906 406h1M914 406h1M920 406h2M929 406h1M948 406h1M966 406h5M972 406h1M974 406h1M981 406h2M995 406h2M998 406h1M1004 406h2M1013 406h1M1033 406h1M1042 406h1M1052 406h1M1060 406h1M1062 406h2M1069 406h1M1071 406h1M1084 406h2M1094 406h1M1100 406h2M1131 406h1M1133 406h1M1141 406h1M1143 406h1M1165 406h2M1171 406h2M1189 406h3M1208 406h4M23 407h3M30 407h1M33 407h1M35 407h2M40 407h3M48 407h1M50 407h2M53 407h1M58 407h1M60 407h3M69 407h1M80 407h1M105 407h1M111 407h1M113 407h3M117 407h1M121 407h1M125 407h2M128 407h2M131 407h1M136 407h3M140 407h2M145 407h4M150 407h2M154 407h4M162 407h1M167 407h3M174 407h1M176 407h1M178 407h2M181 407h2M185 407h1M189 407h2M192 407h1M196 407h1M203 407h2M206 407h1M208 407h1M211 407h1M214 407h4M219 407h1M224 407h1M226 407h2M229 407h1M234 407h3M238 407h1M240 407h1M251 407h5M260 407h1M268 407h1M270 407h1M275 407h1M279 407h1M281 407h1M287 407h1M290 407h2M302 407h2M306 407h1M314 407h3M318 407h2M321 407h1M323 407h2M334 407h1M337 407h3M345 407h2M350 407h1M356 407h2M360 407h6M367 407h2M370 407h2M373 407h6M380 407h1M383 407h2M389 407h1M394 407h1M397 407h1M399 407h1M402 407h1M407 407h2M410 407h1M414 407h1M418 407h1M423 407h1M425 407h2M429 407h1M432 407h3M438 407h1M443 407h1M445 407h2M451 407h2M454 407h1M458 407h1M464 407h2M471 407h1M474 407h3M479 407h4M484 407h5M491 407h1M493 407h2M496 407h3M500 407h4M505 407h2M511 407h5M523 407h1M531 407h1M535 407h2M539 407h1M541 407h3M546 407h1M550 407h2M553 407h1M555 407h3M559 407h2M562 407h2M566 407h1M570 407h2M575 407h1M579 407h4M584 407h1M586 407h4M591 407h2M595 407h2M599 407h2M609 407h3M618 407h1M621 407h3M627 407h1M629 407h4M634 407h2M638 407h2M643 407h3M650 407h4M655 407h1M657 407h1M661 407h1M664 407h1M667 407h2M672 407h2M675 407h6M683 407h1M685 407h2M689 407h3M693 407h1M695 407h1M699 407h2M702 407h3M707 407h1M709 407h4M714 407h1M717 407h2M735 407h1M739 407h2M744 407h3M749 407h1M751 407h1M755 407h1M762 407h2M765 407h5M771 407h2M775 407h1M777 407h2M780 407h1M785 407h4M792 407h2M795 407h1M797 407h2M800 407h1M804 407h1M806 407h3M810 407h2M818 407h2M822 407h1M824 407h1M826 407h1M828 407h1M831 407h3M835 407h4M843 407h1M846 407h3M850 407h2M853 407h1M856 407h2M861 407h1M863 407h1M865 407h2M872 407h1M876 407h1M878 407h2M881 407h6M888 407h2M891 407h3M896 407h3M902 407h1M907 407h3M913 407h1M916 407h2M919 407h1M924 407h1M934 407h2M938 407h2M941 407h1M943 407h5M950 407h2M955 407h2M958 407h1M961 407h5M971 407h1M973 407h1M975 407h1M978 407h3M983 407h2M987 407h1M990 407h5M997 407h1M999 407h3M1006 407h1M1009 407h4M1014 407h8M1024 407h1M1026 407h2M1029 407h1M1034 407h1M1038 407h2M1041 407h1M1047 407h3M1051 407h1M1054 407h6M1064 407h5M1072 407h1M1074 407h2M1077 407h1M1082 407h2M1093 407h1M1095 407h1M1098 407h2M1103 407h2M1108 407h2M1115 407h2M1119 407h4M1130 407h1M1132 407h1M1134 407h5M1140 407h1M1142 407h1M1162 407h1M1170 407h1M1173 407h4M1181 407h1M1186 407h3M1202 407h1M1204 407h2M1212 407h5M1219 407h2M1222 407h1M27 408h3M34 408h1M54 408h4M70 408h2M78 408h2M81 408h5M109 408h2M116 408h1M118 408h1M122 408h3M127 408h1M130 408h1M132 408h2M135 408h1M139 408h1M149 408h1M153 408h1M163 408h3M177 408h1M180 408h1M183 408h2M188 408h1M191 408h1M193 408h1M201 408h2M207 408h1M209 408h2M218 408h1M220 408h2M225 408h1M228 408h1M237 408h1M239 408h1M241 408h2M245 408h1M256 408h4M267 408h1M269 408h1M292 408h7M301 408h1M304 408h1M309 408h1M312 408h2M317 408h1M322 408h1M327 408h1M333 408h1M335 408h1M340 408h1M349 408h1M353 408h1M355 408h1M366 408h1M369 408h1M381 408h2M398 408h1M400 408h2M403 408h4M409 408h1M411 408h3M421 408h2M427 408h2M430 408h2M435 408h1M444 408h1M449 408h2M466 408h4M499 408h1M504 408h1M518 408h1M524 408h1M526 408h5M532 408h1M540 408h1M544 408h2M547 408h1M549 408h1M552 408h1M554 408h1M558 408h1M561 408h1M564 408h2M568 408h2M574 408h1M593 408h2M601 408h2M615 408h1M624 408h3M633 408h1M640 408h3M648 408h1M656 408h1M662 408h2M669 408h1M681 408h2M684 408h1M687 408h2M701 408h1M708 408h1M713 408h1M719 408h1M723 408h2M729 408h1M736 408h1M738 408h1M747 408h2M750 408h1M754 408h1M756 408h2M760 408h2M770 408h1M776 408h1M779 408h1M781 408h1M783 408h2M789 408h1M796 408h1M805 408h1M809 408h1M812 408h2M820 408h2M825 408h1M839 408h2M854 408h1M858 408h3M862 408h1M864 408h1M873 408h3M877 408h1M880 408h1M894 408h2M901 408h1M903 408h1M911 408h1M918 408h1M923 408h1M925 408h3M931 408h2M940 408h1M942 408h1M957 408h1M976 408h2M988 408h2M1025 408h1M1028 408h1M1030 408h1M1035 408h3M1040 408h1M1050 408h1M1073 408h1M1076 408h1M1078 408h2M1088 408h5M1096 408h2M1106 408h2M1110 408h5M1117 408h1M1123 408h1M1125 408h2M1129 408h1M1139 408h1M1177 408h1M1179 408h2M1185 408h1M1193 408h1M1196 408h1M1199 408h1M1203 408h1M1206 408h1M1217 408h2M1221 408h1M1223 408h2M86 409h1M134 409h1M222 409h1M243 409h1M310 409h1M341 409h1M354 409h1M416 409h1M525 409h1M548 409h1M725 409h1M730 409h1M737 409h1M782 409h1M790 409h1M841 409h1M1031 409h1M1045 409h1M1087 409h1M1124 409h1M1178 409h1M1183 409h1M1200 409h1"/></g>
</svg>
</body>
</html>
